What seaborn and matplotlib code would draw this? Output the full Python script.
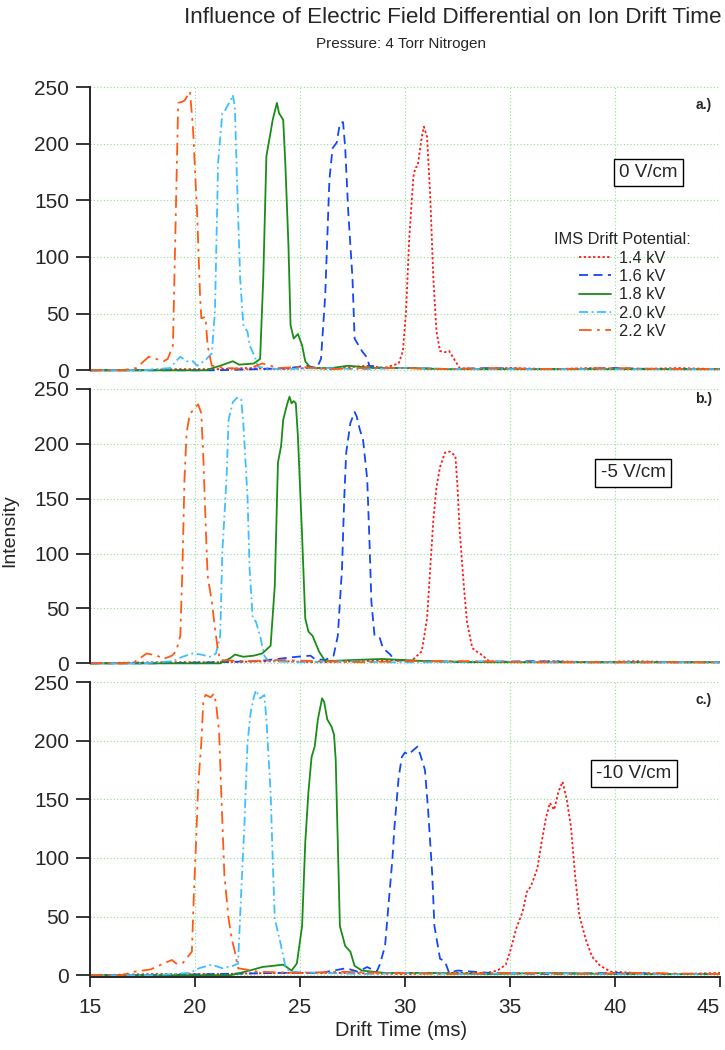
import matplotlib
matplotlib.use("Agg")
import matplotlib.pyplot as plt
from matplotlib import font_manager
import seaborn as sns

# ---- data (drift time in ms, intensity) ----
labels = ["1.4 kV", "1.6 kV", "1.8 kV", "2.0 kV", "2.2 kV"]
field_labels = ["0 V/cm", "-5 V/cm", "-10 V/cm"]
panel_tags = ["a.)", "b.)", "c.)"]
x_ticks = [15, 20, 25, 30, 35, 40, 45]
y_ticks = [0, 50, 100, 150, 200, 250]

# panel a: 0 V/cm
t_a_14 = [15, 17, 19, 21, 22.5, 24, 25.5, 26.5, 27.5, 28.3, 29.0, 29.7, 29.9, 30.05, 30.2, 30.4, 30.5, 30.6, 30.8, 30.9,
          31.05, 31.2, 31.35, 31.5, 31.67, 31.9, 32.1, 32.4, 32.6, 33.5, 35, 37, 39, 41, 43, 45]
i_a_14 = [0, 0, 1, 1, 2, 1, 2, 1, 3, 4, 2, 6, 17, 52, 116, 171, 179, 180, 206, 215,
          206, 154, 81, 34, 17, 16, 17, 8, 2, 1, 2, 1, 2, 1, 2, 1]
t_a_16 = [15, 18, 21, 23, 24.5, 25.3, 25.8, 26.0, 26.2, 26.4, 26.55, 26.75, 26.9, 27.05, 27.15, 27.3, 27.5, 27.6,
          27.95, 28.2, 28.3, 29, 30.5, 32, 34, 36, 38, 40, 42, 45]
i_a_16 = [0, 0, 0, 1, 2, 4, 2, 10, 66, 168, 196, 201, 218, 219, 197, 139, 81, 28,
          17, 11, 4, 2, 2, 1, 2, 1, 1, 2, 1, 1]
t_a_18 = [15, 18, 20.5, 21.2, 21.8, 22.1, 22.8, 23.1, 23.25, 23.4, 23.6, 23.7, 23.9, 24.0, 24.2, 24.3, 24.45, 24.55,
          24.7, 24.9, 25.1, 25.25, 25.5, 26.5, 27.3, 28.5, 30, 32, 35, 38, 41, 45]
i_a_18 = [0, 0, 0, 4, 8, 5, 6, 10, 81, 189, 210, 221, 236, 227, 221, 183, 110, 40,
          28, 32, 22, 8, 2, 2, 4, 2, 2, 1, 1, 1, 1, 1]
t_a_20 = [15, 17.5, 18.8, 19.3, 19.6, 19.9, 20.1, 20.5, 20.8, 20.95, 21.1, 21.3, 21.4, 21.5, 21.7, 21.8, 21.9, 22.0,
          22.15, 22.3, 22.5, 22.6, 22.85, 23.0, 24, 26, 28, 30, 33, 36, 40, 45]
i_a_20 = [0, 0, 2, 12, 8, 8, 4, 9, 15, 52, 183, 227, 228, 232, 238, 243, 232, 168,
          81, 40, 34, 22, 12, 3, 1, 2, 1, 2, 1, 1, 1, 1]
t_a_22 = [15, 16.5, 17.2, 17.8, 18.5, 18.7, 18.95, 19.2, 19.4, 19.5, 19.76, 19.9, 20.1, 20.24, 20.3, 20.5, 20.6, 20.8,
          21.5, 22.5, 23.2, 24, 25, 26.5, 28, 30, 32, 34, 37, 40, 43, 45]
i_a_22 = [0, 0, 2, 12, 8, 10, 22, 236, 237, 238, 246, 215, 139, 66, 46, 47, 22, 4,
          2, 1, 6, 2, 3, 1, 2, 2, 1, 2, 1, 2, 1, 1]

# panel b: -5 V/cm
t_b_14 = [15, 18, 21, 24, 26, 28, 29.5, 30.3, 30.8, 31.05, 31.2, 31.35, 31.5, 31.67, 31.9, 32.14, 32.4, 32.5, 32.6,
          32.8, 32.95, 33.2, 33.4, 33.7, 34.0, 35.5, 37, 39, 41, 43, 45]
i_b_14 = [0, 1, 1, 2, 1, 2, 3, 2, 11, 41, 86, 131, 161, 179, 192, 193, 189, 161, 122,
          71, 38, 14, 11, 7, 2, 1, 2, 1, 2, 1, 1]
t_b_16 = [15, 18, 21, 23, 24.85, 25.5, 25.7, 26.2, 26.6, 26.8, 27.0, 27.1, 27.2, 27.4, 27.6, 27.7, 27.85, 28.0, 28.2,
          28.3, 28.4, 28.55, 28.8, 28.95, 29.3, 29.5, 31, 33, 36, 39, 42, 45]
i_b_16 = [0, 0, 1, 2, 6, 7, 4, 3, 7, 25, 86, 147, 192, 219, 229, 225, 213, 204, 168,
          116, 56, 25, 23, 14, 8, 3, 2, 1, 2, 1, 1, 1]
t_b_18 = [15, 18, 21.2, 21.7, 21.9, 22.3, 22.8, 23.2, 23.6, 23.8, 23.95, 24.1, 24.2, 24.4, 24.5, 24.6, 24.7, 24.8,
          24.9, 25.1, 25.25, 25.4, 25.6, 25.9, 26.2, 27.5, 28.9, 31, 34, 37, 40, 45]
i_b_18 = [0, 0, 0, 5, 8, 6, 7, 9, 16, 71, 183, 198, 222, 237, 243, 237, 239, 237,
          207, 116, 41, 29, 25, 11, 2, 3, 4, 2, 1, 1, 1, 1]
t_b_20 = [15, 17.5, 18.95, 19.4, 19.9, 20.3, 20.7, 21.0, 21.2, 21.3, 21.5, 21.6, 21.8, 22.0, 22.2, 22.3, 22.5, 22.6,
          22.75, 22.9, 23.1, 23.3, 23.5, 25, 27, 29, 31, 34, 37, 40, 43, 45]
i_b_20 = [0, 0, 2, 6, 9, 8, 6, 9, 25, 101, 168, 222, 238, 242, 241, 219, 152, 86,
          41, 38, 25, 7, 2, 1, 2, 1, 1, 2, 1, 1, 1, 1]
t_b_22 = [15, 16.5, 17.1, 17.7, 18.2, 18.5, 18.9, 19.1, 19.3, 19.4, 19.5, 19.6, 19.75, 20.0, 20.15, 20.3, 20.4, 20.5,
          20.6, 20.8, 20.95, 21.1, 21.2, 22.5, 24, 26, 28, 30, 33, 36, 40, 45]
i_b_22 = [0, 0, 1, 9, 7, 4, 7, 11, 25, 86, 168, 210, 227, 233, 236, 228, 186, 131,
          80, 56, 32, 11, 3, 2, 3, 2, 1, 2, 2, 1, 1, 1]

# panel c: -10 V/cm
t_c_14 = [15, 18, 21, 24, 27, 30, 32, 33.9, 34.4, 34.8, 35.0, 35.3, 35.6, 35.8, 36.0, 36.3, 36.5, 36.7, 36.9, 37.1,
          37.3, 37.5, 37.7, 37.9, 38.1, 38.3, 38.6, 38.9, 39.3, 39.8, 41, 43, 45]
i_c_14 = [0, 1, 1, 2, 2, 1, 2, 2, 4, 9, 20, 40, 54, 71, 76, 91, 113, 133, 147, 141,
          156, 165, 150, 127, 85, 51, 31, 16, 8, 3, 2, 1, 2]
t_c_16 = [15, 18, 21, 24, 26, 27.2, 27.75, 28.2, 28.65, 28.8, 29.05, 29.2, 29.4, 29.5, 29.7, 29.85, 30.0, 30.15, 30.4,
          30.6, 30.8, 30.95, 31.1, 31.3, 31.4, 31.67, 31.9, 32.1, 32.5, 34, 37, 40, 43, 45]
i_c_16 = [0, 0, 1, 2, 2, 6, 3, 7, 3, 9, 25, 57, 99, 127, 169, 186, 190, 188, 192,
          195, 184, 175, 141, 85, 42, 14, 12, 2, 4, 2, 1, 2, 1, 1]
t_c_18 = [15, 18, 21.7, 22.6, 23.2, 23.7, 24.2, 24.6, 24.85, 25.1, 25.25, 25.4, 25.55, 25.7, 25.85, 26.05, 26.15, 26.3,
          26.5, 26.62, 26.7, 26.78, 26.9, 27.15, 27.4, 27.6, 27.95, 29, 31, 34, 37, 40, 45]
i_c_18 = [0, 0, 0, 4, 7, 8, 9, 4, 10, 42, 113, 156, 186, 195, 218, 236, 233, 218,
          212, 205, 184, 127, 42, 25, 20, 8, 4, 2, 2, 1, 2, 1, 1]
t_c_20 = [15, 18, 19.75, 20.2, 20.8, 21.3, 21.8, 22.05, 22.2, 22.35, 22.5, 22.65, 22.8, 22.9, 23.1, 23.3, 23.4, 23.6,
          23.7, 23.8, 24.05, 24.3, 24.5, 26, 28, 30, 33, 36, 39, 42, 45]
i_c_20 = [0, 0, 2, 6, 9, 6, 8, 10, 71, 127, 198, 224, 237, 243, 236, 239, 218, 156,
          99, 48, 29, 8, 3, 2, 1, 2, 1, 2, 1, 1, 1]
t_c_22 = [15, 16.5, 17.1, 17.9, 18.5, 18.9, 19.1, 19.4, 19.85, 19.95, 20.05, 20.15, 20.3, 20.4, 20.5, 20.75, 20.9,
          21.0, 21.15, 21.25, 21.4, 21.6, 21.75, 21.9, 22.05, 23, 25, 27, 29, 32, 35, 38, 41, 45]
i_c_22 = [0, 0, 3, 5, 10, 13, 10, 10, 20, 71, 113, 161, 198, 235, 239, 237, 240,
          232, 207, 156, 85, 48, 31, 20, 6, 3, 2, 3, 2, 1, 2, 1, 2, 1]

panels = [
    [(t_a_14, i_a_14), (t_a_16, i_a_16), (t_a_18, i_a_18), (t_a_20, i_a_20), (t_a_22, i_a_22)],
    [(t_b_14, i_b_14), (t_b_16, i_b_16), (t_b_18, i_b_18), (t_b_20, i_b_20), (t_b_22, i_b_22)],
    [(t_c_14, i_c_14), (t_c_16, i_c_16), (t_c_18, i_c_18), (t_c_20, i_c_20), (t_c_22, i_c_22)],
]

colors = ["#ff1a1a", "#1447f5", "#1a8c1a", "#3fbfff", "#ff5a14"]
styles = [(0, (1.3, 1.3)), (0, (5, 3)), "-", (0, (5, 2, 1, 2)), (0, (7, 3, 1.5, 3))]

sns.set_style("white")
plt.rcParams["font.family"] = ["Liberation Sans", "DejaVu Sans"]

installed = {f.name for f in font_manager.fontManager.ttflist}
narrow = ["Liberation Sans Narrow"] if "Liberation Sans Narrow" in installed else []
title_family = narrow + ["Liberation Sans", "DejaVu Sans"]

W, H = 725, 1050
fig = plt.figure(figsize=(W / 100, H / 100), dpi=100)

# axes boxes in pixels: left, top, right, bottom
boxes = [(90, 87, 720, 372), (90, 389, 720, 665), (90, 682, 720, 977)]
tag_pos = [(0.987, 0.937), (0.987, 0.962), (0.987, 0.94)]
box_pos = [(0.886, 0.70), (0.862, 0.696), (0.863, 0.69)]

grid_color = "#8fe08f"
for k, (l, t, r, b) in enumerate(boxes):
    ax = fig.add_axes([l / W, 1 - b / H, (r - l) / W, (b - t) / H])
    for (tt, ii), c, ls, lab in zip(panels[k], colors, styles, labels):
        sns.lineplot(x=tt, y=ii, ax=ax, color=c, linestyle=ls, linewidth=1.3,
                     estimator=None, sort=False, label=lab)
    ax.set_xlim(15, 45)
    ax.set_ylim(-1.5, 250)
    ax.set_xticks(x_ticks)
    ax.set_yticks(y_ticks)
    ax.grid(True, color=grid_color, linestyle=(0, (1, 2)), linewidth=0.8)
    ax.set_axisbelow(True)
    for s in ["top", "right"]:
        ax.spines[s].set_visible(False)
    ax.spines["left"].set_linewidth(1.4)
    ax.spines["left"].set_bounds(0, 250)
    ax.tick_params(axis="y", direction="out", length=10, width=1.3, labelsize=15, pad=5, left=True)
    if k < 2:
        ax.spines["bottom"].set_visible(False)
        ax.tick_params(axis="x", bottom=False, labelbottom=False)
    else:
        ax.spines["bottom"].set_linewidth(1.4)
        ax.tick_params(axis="x", direction="out", length=7, width=1.3, labelsize=15, pad=8, bottom=True)
        ax.get_xticklabels()[-1].set_horizontalalignment("right")
    ax.set_xlabel("")
    ax.set_ylabel("")
    ax.text(tag_pos[k][0], tag_pos[k][1], panel_tags[k], transform=ax.transAxes,
            ha="right", va="center", fontsize=10, fontweight="bold")
    ax.text(box_pos[k][0], box_pos[k][1], field_labels[k], transform=ax.transAxes,
            ha="center", va="center", fontsize=13.5,
            bbox=dict(boxstyle="square,pad=0.28", fc="white", ec="black", lw=1.0))
    if k == 0:
        ax.legend(title="IMS Drift Potential:", loc="upper center", bbox_to_anchor=(0.845, 0.53),
                  frameon=False, fontsize=11.8, title_fontsize=11.8, handlelength=1.9,
                  labelspacing=0.2, handletextpad=0.5, borderpad=0.2)
    else:
        ax.get_legend().remove()

title = fig.text(0.625, 0.983, "Influence of Electric Field Differential on Ion Drift Time",
                 ha="center", va="center", fontsize=19, family=title_family)
sub = fig.text(0.553, 0.958, "Pressure: 4 Torr Nitrogen", ha="center", va="center", fontsize=11,
               family=title_family)
# fit the title to the width it takes in the reference (about 537 px)
renderer = fig.canvas.get_renderer()
w = title.get_window_extent(renderer).width
title.set_fontsize(19 * 535 / w)
w = sub.get_window_extent(renderer).width
sub.set_fontsize(11 * 170 / w)

fig.text(0.014, 0.495, "Intensity", rotation=90, ha="center", va="center", fontsize=14)
fig.text(0.553, 0.019, "Drift Time (ms)", ha="center", va="center", fontsize=14.5)

fig.savefig("out.png", dpi=100)
